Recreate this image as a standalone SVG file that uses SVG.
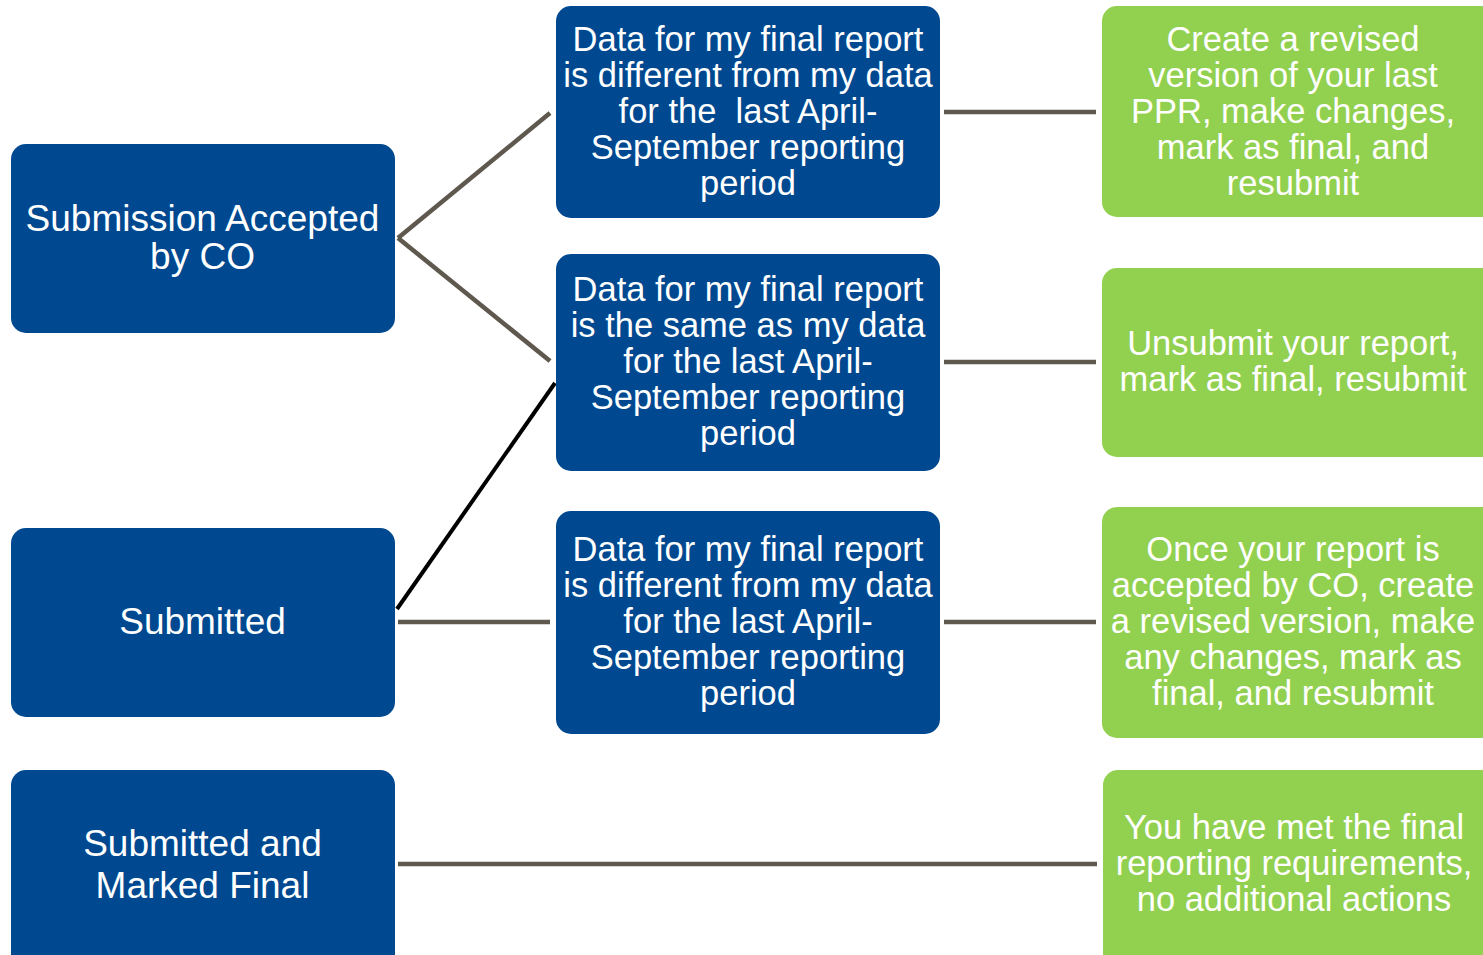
<svg xmlns="http://www.w3.org/2000/svg" width="1483" height="955" viewBox="0 0 1483 955">
<style>
.blue{fill:#004990}
.green{fill:#92D050}
.t{font-family:"Liberation Sans",Arial,sans-serif;fill:#fff;text-anchor:middle}
.l{font-size:37px}
.m{font-size:34.5px}
.c{stroke:#5E584E;stroke-width:4.5;fill:none}
.k{stroke:#000;stroke-width:4;fill:none}
</style>
<rect width="1483" height="955" fill="#fff"/>
<g id="connectors">
<line class="c" x1="398" y1="238" x2="550" y2="113"/>
<line class="c" x1="398" y1="238" x2="550" y2="361"/>
<line class="k" x1="397" y1="609" x2="555" y2="383"/>
<line class="c" x1="398" y1="622" x2="550" y2="622"/>
<line class="c" x1="944" y1="112" x2="1096" y2="112"/>
<line class="c" x1="944" y1="362" x2="1096" y2="362"/>
<line class="c" x1="944" y1="622" x2="1096" y2="622"/>
<line class="c" x1="398" y1="864" x2="1097" y2="864"/>
</g>
<g id="n-accepted">
<rect class="blue" x="11" y="144" width="384" height="189" rx="15"/>
<text class="t l" x="202.5" y="231">Submission Accepted</text>
<text class="t l" x="202.5" y="269">by CO</text>
</g>
<g id="n-submitted">
<rect class="blue" x="11" y="528" width="384" height="189" rx="15"/>
<text class="t l" x="202.5" y="634">Submitted</text>
</g>
<g id="n-final">
<rect class="blue" x="11" y="770" width="384" height="200" rx="15"/>
<text class="t l" x="202.5" y="856">Submitted and</text>
<text class="t l" x="202.5" y="898">Marked Final</text>
</g>
<g id="n-diff1">
<rect class="blue" x="556" y="6" width="384" height="212" rx="15"/>
<text class="t m" x="748" y="51">Data for my final report</text>
<text class="t m" x="748" y="87">is different from my data</text>
<text class="t m" x="748" y="123" xml:space="preserve">for the  last April-</text>
<text class="t m" x="748" y="159">September reporting</text>
<text class="t m" x="748" y="195">period</text>
</g>
<g id="n-same">
<rect class="blue" x="556" y="254" width="384" height="217" rx="15"/>
<text class="t m" x="748" y="301">Data for my final report</text>
<text class="t m" x="748" y="337">is the same as my data</text>
<text class="t m" x="748" y="373">for the last April-</text>
<text class="t m" x="748" y="409">September reporting</text>
<text class="t m" x="748" y="445">period</text>
</g>
<g id="n-diff2">
<rect class="blue" x="556" y="511" width="384" height="223" rx="15"/>
<text class="t m" x="748" y="561">Data for my final report</text>
<text class="t m" x="748" y="597">is different from my data</text>
<text class="t m" x="748" y="633">for the last April-</text>
<text class="t m" x="748" y="669">September reporting</text>
<text class="t m" x="748" y="705">period</text>
</g>
<g id="a-revise">
<rect class="green" x="1102" y="6" width="395" height="211" rx="15"/>
<text class="t m" x="1293" y="51">Create a revised</text>
<text class="t m" x="1293" y="87">version of your last</text>
<text class="t m" x="1293" y="123">PPR, make changes,</text>
<text class="t m" x="1293" y="159">mark as final, and</text>
<text class="t m" x="1293" y="195">resubmit</text>
</g>
<g id="a-unsubmit">
<rect class="green" x="1102" y="268" width="395" height="189" rx="15"/>
<text class="t m" x="1293" y="355">Unsubmit your report,</text>
<text class="t m" x="1293" y="391">mark as final, resubmit</text>
</g>
<g id="a-once">
<rect class="green" x="1102" y="507" width="395" height="231" rx="15"/>
<text class="t m" x="1293" y="561">Once your report is</text>
<text class="t m" x="1293" y="597">accepted by CO, create</text>
<text class="t m" x="1293" y="633">a revised version, make</text>
<text class="t m" x="1293" y="669">any changes, mark as</text>
<text class="t m" x="1293" y="705">final, and resubmit</text>
</g>
<g id="a-met">
<rect class="green" x="1103" y="770" width="395" height="200" rx="15"/>
<text class="t m" x="1294" y="839">You have met the final</text>
<text class="t m" x="1294" y="875">reporting requirements,</text>
<text class="t m" x="1294" y="911">no additional actions</text>
</g>
</svg>
